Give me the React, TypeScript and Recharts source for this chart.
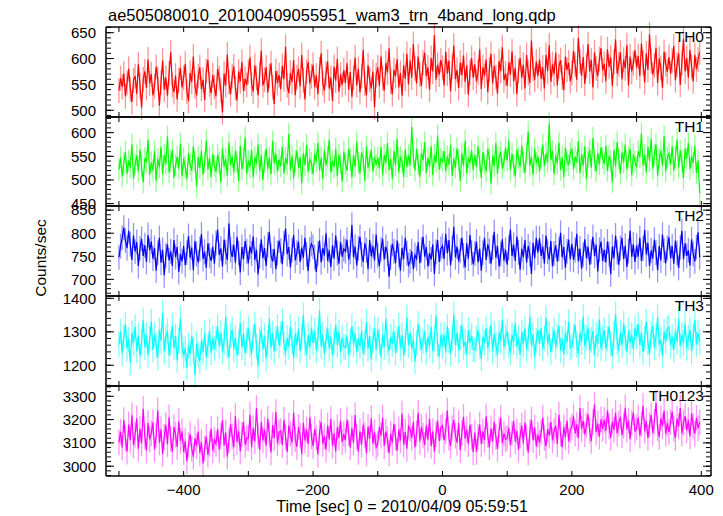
import React from 'react';
import { LineChart, Line, XAxis, YAxis, ErrorBar } from 'recharts';

const TIME = [
  -500, -497.5, -495, -492.5, -490, -487.5, -485, -482.5, -480, -477.5, -475, -472.5, -470, -467.5, -465, -462.5, -460, -457.5, -455, -452.5,
  -450, -447.5, -445, -442.5, -440, -437.5, -435, -432.5, -430, -427.5, -425, -422.5, -420, -417.5, -415, -412.5, -410, -407.5, -405, -402.5,
  -400, -397.5, -395, -392.5, -390, -387.5, -385, -382.5, -380, -377.5, -375, -372.5, -370, -367.5, -365, -362.5, -360, -357.5, -355, -352.5,
  -350, -347.5, -345, -342.5, -340, -337.5, -335, -332.5, -330, -327.5, -325, -322.5, -320, -317.5, -315, -312.5, -310, -307.5, -305, -302.5,
  -300, -297.5, -295, -292.5, -290, -287.5, -285, -282.5, -280, -277.5, -275, -272.5, -270, -267.5, -265, -262.5, -260, -257.5, -255, -252.5,
  -250, -247.5, -245, -242.5, -240, -237.5, -235, -232.5, -230, -227.5, -225, -222.5, -220, -217.5, -215, -212.5, -210, -207.5, -205, -202.5,
  -200, -197.5, -195, -192.5, -190, -187.5, -185, -182.5, -180, -177.5, -175, -172.5, -170, -167.5, -165, -162.5, -160, -157.5, -155, -152.5,
  -150, -147.5, -145, -142.5, -140, -137.5, -135, -132.5, -130, -127.5, -125, -122.5, -120, -117.5, -115, -112.5, -110, -107.5, -105, -102.5,
  -100, -97.5, -95, -92.5, -90, -87.5, -85, -82.5, -80, -77.5, -75, -72.5, -70, -67.5, -65, -62.5, -60, -57.5, -55, -52.5,
  -50, -47.5, -45, -42.5, -40, -37.5, -35, -32.5, -30, -27.5, -25, -22.5, -20, -17.5, -15, -12.5, -10, -7.5, -5, -2.5,
  0, 2.5, 5, 7.5, 10, 12.5, 15, 17.5, 20, 22.5, 25, 27.5, 30, 32.5, 35, 37.5, 40, 42.5, 45, 47.5,
  50, 52.5, 55, 57.5, 60, 62.5, 65, 67.5, 70, 72.5, 75, 77.5, 80, 82.5, 85, 87.5, 90, 92.5, 95, 97.5,
  100, 102.5, 105, 107.5, 110, 112.5, 115, 117.5, 120, 122.5, 125, 127.5, 130, 132.5, 135, 137.5, 140, 142.5, 145, 147.5,
  150, 152.5, 155, 157.5, 160, 162.5, 165, 167.5, 170, 172.5, 175, 177.5, 180, 182.5, 185, 187.5, 190, 192.5, 195, 197.5,
  200, 202.5, 205, 207.5, 210, 212.5, 215, 217.5, 220, 222.5, 225, 227.5, 230, 232.5, 235, 237.5, 240, 242.5, 245, 247.5,
  250, 252.5, 255, 257.5, 260, 262.5, 265, 267.5, 270, 272.5, 275, 277.5, 280, 282.5, 285, 287.5, 290, 292.5, 295, 297.5,
  300, 302.5, 305, 307.5, 310, 312.5, 315, 317.5, 320, 322.5, 325, 327.5, 330, 332.5, 335, 337.5, 340, 342.5, 345, 347.5,
  350, 352.5, 355, 357.5, 360, 362.5, 365, 367.5, 370, 372.5, 375, 377.5, 380, 382.5, 385, 387.5, 390, 392.5, 395, 397.5,
];

const TH0 = [
  538, 562, 545, 571, 527, 553, 580, 541, 516, 558, 566, 532, 589, 548, 505, 560, 575, 543, 598, 552,
  570, 529, 547, 584, 561, 509, 553, 596, 540, 563, 528, 571, 612, 549, 535, 567, 521, 558, 582, 544,
  563, 590, 536, 518, 572, 555, 604, 547, 529, 566, 583, 541, 559, 520, 576, 597, 550, 533, 568, 545,
  527, 580, 562, 539, 496, 571, 548, 608, 554, 531, 566, 585, 543, 519, 575, 556, 593, 537, 561, 549,
  574, 602, 551, 536, 587, 562, 529, 570, 615, 548, 559, 583, 534, 566, 591, 545, 512, 576, 553, 568,
  541, 586, 560, 623, 548, 533, 572, 555, 597, 529, 564, 580, 546, 607, 558, 521, 575, 593, 552, 566,
  588, 545, 567, 531, 579, 610, 553, 538, 571, 594, 542, 563, 518, 584, 557, 599, 536, 569, 549, 577,
  553, 591, 540, 574, 526, 563, 602, 548, 580, 535, 566, 617, 551, 529, 587, 559, 542, 575, 506, 568,
  583, 547, 604, 562, 538, 591, 573, 620, 555, 531, 578, 566, 599, 544, 572, 528, 587, 561, 609, 550,
  596, 563, 628, 581, 552, 604, 570, 547, 592, 611, 566, 583, 540, 601, 575, 645, 559, 588, 569, 597,
  582, 548, 613, 571, 596, 537, 584, 625, 560, 578, 543, 592, 568, 606, 555, 587, 530, 574, 601, 563,
  589, 556, 574, 618, 541, 583, 567, 598, 535, 579, 609, 552, 586, 564, 532, 595, 576, 622, 558, 571,
  547, 593, 569, 614, 556, 582, 531, 576, 601, 563, 588, 542, 607, 572, 553, 635, 580, 559, 594, 566,
  598, 561, 583, 542, 607, 576, 626, 555, 589, 570, 611, 548, 585, 597, 563, 539, 604, 578, 592, 556,
  572, 615, 588, 559, 640, 594, 567, 603, 551, 586, 628, 575, 597, 544, 612, 581, 566, 599, 620, 577,
  590, 556, 618, 584, 602, 547, 593, 637, 571, 589, 612, 560, 598, 581, 626, 548, 604, 575, 591, 616,
  583, 605, 566, 629, 592, 554, 610, 578, 647, 596, 569, 587, 621, 553, 600, 582, 543, 613, 589, 574,
  603, 571, 596, 624, 558, 588, 610, 549, 592, 638, 575, 601, 563, 617, 584, 556, 607, 579, 598, 612,
];

const TH1 = [
  522, 548, 507, 536, 559, 514, 541, 526, 575, 503, 533, 552, 518, 564, 529, 495, 546, 538, 585, 511,
  537, 520, 561, 498, 544, 527, 570, 512, 553, 534, 592, 516, 540, 563, 505, 531, 549, 524, 577, 508,
  545, 528, 502, 556, 533, 519, 571, 540, 486, 549, 525, 562, 511, 537, 583, 522, 547, 506, 554, 530,
  517, 553, 536, 495, 567, 528, 544, 509, 579, 532, 550, 516, 561, 539, 498, 572, 523, 545, 590, 513,
  541, 527, 563, 506, 548, 534, 575, 519, 552, 500, 538, 566, 524, 547, 512, 582, 535, 556, 518, 543,
  529, 570, 514, 546, 533, 597, 521, 551, 504, 539, 562, 526, 548, 493, 557, 531, 574, 517, 544, 536,
  512, 555, 539, 578, 520, 547, 502, 563, 531, 549, 585, 516, 541, 527, 566, 508, 553, 535, 497, 560,
  534, 519, 567, 543, 506, 552, 528, 581, 537, 514, 558, 545, 499, 571, 526, 540, 563, 518, 549, 532,
  547, 525, 569, 510, 553, 536, 578, 521, 544, 503, 561, 530, 587, 516, 549, 538, 506, 565, 527, 552,
  531, 612, 548, 520, 566, 534, 507, 557, 542, 580, 515, 546, 528, 571, 510, 553, 537, 594, 522, 545,
  539, 561, 518, 550, 532, 574, 509, 545, 526, 567, 541, 498, 556, 530, 583, 514, 548, 536, 562, 521,
  553, 527, 571, 540, 505, 559, 534, 518, 566, 545, 492, 551, 529, 578, 513, 547, 560, 524, 538, 569,
  541, 583, 520, 555, 532, 507, 564, 546, 527, 572, 538, 515, 557, 601, 530, 549, 511, 566, 535, 550,
  518, 546, 574, 529, 556, 538, 620, 543, 561, 512, 552, 535, 579, 521, 548, 506, 568, 540, 531, 557,
  566, 523, 549, 537, 582, 514, 555, 530, 571, 501, 547, 563, 526, 589, 540, 518, 557, 533, 569, 546,
  534, 572, 519, 551, 540, 496, 563, 528, 580, 545, 513, 558, 537, 575, 522, 549, 566, 510, 554, 539,
  527, 561, 548, 598, 531, 553, 516, 570, 540, 587, 524, 552, 575, 509, 545, 562, 530, 593, 518, 547,
  556, 533, 571, 520, 548, 585, 527, 562, 539, 504, 566, 545, 578, 523, 550, 536, 572, 514, 541, 472,
];

const TH2 = [
  748, 772, 790, 812, 784, 768, 805, 776, 742, 795, 760, 781, 729, 767, 788, 751, 774, 738, 796, 763,
  782, 745, 768, 719, 757, 790, 736, 764, 709, 752, 776, 741, 761, 729, 785, 748, 770, 716, 755, 739,
  772, 731, 758, 794, 747, 769, 720, 783, 755, 737, 766, 798, 744, 760, 725, 778, 752, 740, 771, 734,
  779, 808, 753, 767, 728, 786, 759, 742, 821, 764, 749, 775, 736, 792, 757, 715, 770, 744, 783, 761,
  735, 771, 756, 793, 742, 764, 711, 750, 787, 746, 768, 729, 775, 803, 751, 739, 766, 722, 757, 784,
  762, 733, 778, 810, 755, 770, 726, 763, 796, 741, 758, 782, 738, 769, 747, 790, 754, 718, 765, 777,
  770, 748, 716, 756, 784, 737, 768, 752, 800, 740, 763, 727, 774, 745, 795, 757, 734, 781, 749, 766,
  761, 786, 743, 759, 818, 748, 771, 730, 767, 792, 754, 738, 778, 763, 722, 785, 750, 772, 741, 797,
  752, 729, 765, 788, 743, 771, 756, 706, 748, 777, 761, 735, 784, 752, 719, 768, 744, 790, 757, 731,
  739, 761, 722, 753, 745, 781, 735, 764, 792, 749, 770, 728, 757, 743, 776, 712, 760, 785, 738, 766,
  773, 744, 799, 757, 785, 730, 767, 814, 748, 771, 739, 762, 790, 752, 726, 778, 745, 796, 758, 733,
  756, 782, 737, 767, 719, 758, 790, 742, 776, 761, 734, 769, 803, 747, 772, 728, 755, 787, 741, 764,
  732, 769, 808, 751, 775, 740, 793, 759, 721, 766, 748, 785, 736, 772, 755, 712, 779, 746, 790, 758,
  789, 751, 771, 734, 795, 760, 743, 783, 728, 756, 774, 739, 766, 801, 748, 770, 725, 761, 786, 744,
  777, 742, 763, 799, 739, 767, 723, 754, 787, 746, 771, 732, 760, 792, 751, 775, 717, 764, 782, 740,
  764, 737, 782, 755, 711, 771, 746, 795, 759, 732, 768, 790, 744, 773, 727, 761, 806, 749, 776, 738,
  773, 749, 790, 740, 767, 807, 754, 779, 729, 763, 745, 786, 758, 720, 772, 741, 797, 762, 735, 768,
  791, 746, 772, 734, 784, 757, 725, 769, 805, 744, 778, 751, 763, 730, 787, 755, 739, 770, 802, 748,
];

const TH3 = [
  1262, 1301, 1236, 1284, 1322, 1251, 1277, 1208, 1296, 1266, 1315, 1243, 1289, 1227, 1270, 1335, 1254, 1290, 1231, 1279,
  1331, 1246, 1292, 1260, 1223, 1306, 1273, 1356, 1241, 1284, 1302, 1229, 1268, 1318, 1252, 1287, 1214, 1275, 1340, 1258,
  1229, 1251, 1193, 1260, 1234, 1288, 1246, 1170, 1264, 1231, 1212, 1274, 1240, 1296, 1225, 1258, 1303, 1237, 1281, 1249,
  1279, 1316, 1256, 1297, 1241, 1271, 1346, 1259, 1224, 1289, 1307, 1248, 1282, 1230, 1265, 1326, 1253, 1294, 1236, 1275,
  1311, 1263, 1235, 1285, 1323, 1257, 1198, 1276, 1304, 1247, 1288, 1220, 1269, 1338, 1252, 1296, 1241, 1280, 1315, 1259,
  1293, 1331, 1264, 1237, 1282, 1255, 1316, 1271, 1221, 1295, 1260, 1308, 1243, 1285, 1350, 1266, 1232, 1290, 1254, 1312,
  1267, 1304, 1244, 1279, 1363, 1257, 1291, 1234, 1277, 1311, 1250, 1286, 1228, 1272, 1320, 1261, 1299, 1239, 1283, 1255,
  1253, 1289, 1229, 1271, 1317, 1263, 1294, 1241, 1279, 1257, 1302, 1235, 1268, 1329, 1250, 1287, 1218, 1274, 1310, 1246,
  1306, 1271, 1225, 1291, 1254, 1339, 1267, 1242, 1285, 1263, 1300, 1236, 1276, 1318, 1251, 1290, 1229, 1268, 1343, 1259,
  1297, 1249, 1276, 1211, 1266, 1324, 1281, 1246, 1271, 1301, 1238, 1285, 1258, 1314, 1243, 1279, 1348, 1262, 1226, 1290,
  1257, 1291, 1239, 1316, 1273, 1235, 1281, 1351, 1261, 1297, 1244, 1283, 1320, 1255, 1270, 1232, 1305, 1267, 1288, 1248,
  1246, 1279, 1304, 1257, 1219, 1285, 1267, 1311, 1251, 1277, 1322, 1240, 1293, 1263, 1230, 1298, 1271, 1336, 1255, 1284,
  1301, 1261, 1237, 1291, 1269, 1327, 1256, 1283, 1231, 1299, 1264, 1310, 1247, 1280, 1345, 1259, 1292, 1226, 1274, 1306,
  1264, 1311, 1249, 1281, 1341, 1265, 1293, 1239, 1276, 1304, 1255, 1286, 1318, 1244, 1279, 1232, 1297, 1268, 1330, 1252,
  1257, 1287, 1321, 1261, 1235, 1296, 1269, 1346, 1257, 1283, 1310, 1242, 1276, 1302, 1229, 1291, 1264, 1337, 1250, 1280,
  1305, 1249, 1279, 1316, 1265, 1227, 1291, 1353, 1271, 1244, 1298, 1260, 1324, 1282, 1238, 1303, 1268, 1290, 1247, 1312,
  1285, 1323, 1261, 1297, 1239, 1281, 1331, 1267, 1234, 1293, 1318, 1253, 1286, 1343, 1262, 1276, 1228, 1300, 1271, 1309,
  1314, 1259, 1285, 1247, 1303, 1271, 1339, 1259, 1291, 1267, 1324, 1251, 1282, 1306, 1242, 1288, 1335, 1263, 1297, 1270,
];

const TH0123 = [
  3102, 3148, 3081, 3198, 3121, 3062, 3179, 3112, 3218, 3091, 3136, 3205, 3075, 3160, 3098, 3246, 3128, 3067, 3185, 3115,
  3141, 3188, 3072, 3131, 3239, 3101, 3158, 3052, 3126, 3176, 3094, 3210, 3117, 3062, 3169, 3135, 3083, 3192, 3109, 3150,
  3061, 3108, 3022, 3091, 3138, 3074, 3041, 3119, 3086, 3149, 3058, 3103, 3012, 3076, 3127, 3048, 3095, 3160, 3067, 3112,
  3096, 3159, 3071, 3131, 3198, 3089, 3144, 3041, 3111, 3179, 3128, 3082, 3215, 3104, 3150, 3063, 3137, 3189, 3092, 3121,
  3119, 3221, 3081, 3164, 3106, 3249, 3131, 3071, 3189, 3111, 3157, 3088, 3203, 3135, 3059, 3176, 3120, 3232, 3098, 3145,
  3151, 3091, 3199, 3126, 3061, 3174, 3139, 3101, 3229, 3116, 3083, 3168, 3132, 3052, 3186, 3110, 3157, 3095, 3210, 3127,
  3086, 3159, 3121, 3051, 3144, 3189, 3096, 3129, 3071, 3174, 3115, 3202, 3088, 3141, 3063, 3167, 3122, 3195, 3103, 3138,
  3111, 3199, 3141, 3081, 3164, 3101, 3219, 3126, 3061, 3149, 3092, 3178, 3134, 3055, 3170, 3118, 3206, 3097, 3145, 3081,
  3096, 3169, 3131, 3209, 3086, 3149, 3116, 3056, 3139, 3101, 3182, 3124, 3065, 3158, 3110, 3226, 3092, 3147, 3075, 3171,
  3159, 3121, 3189, 3081, 3141, 3229, 3106, 3169, 3131, 3091, 3175, 3114, 3203, 3087, 3150, 3062, 3136, 3196, 3108, 3165,
  3174, 3111, 3151, 3239, 3121, 3086, 3164, 3199, 3131, 3101, 3185, 3069, 3143, 3212, 3118, 3157, 3094, 3178, 3126, 3060,
  3144, 3061, 3126, 3179, 3096, 3149, 3111, 3214, 3134, 3081, 3162, 3105, 3190, 3127, 3074, 3153, 3208, 3099, 3140, 3116,
  3121, 3164, 3091, 3141, 3194, 3106, 3151, 3071, 3131, 3174, 3098, 3187, 3123, 3058, 3146, 3199, 3112, 3166, 3085, 3135,
  3101, 3146, 3209, 3121, 3086, 3159, 3131, 3189, 3111, 3151, 3174, 3095, 3220, 3138, 3082, 3168, 3125, 3196, 3107, 3155,
  3169, 3214, 3141, 3179, 3121, 3249, 3161, 3194, 3136, 3176, 3222, 3152, 3108, 3189, 3265, 3146, 3183, 3127, 3201, 3160,
  3199, 3151, 3239, 3171, 3121, 3191, 3156, 3229, 3141, 3184, 3212, 3133, 3174, 3251, 3158, 3196, 3116, 3187, 3230, 3149,
  3166, 3209, 3131, 3181, 3259, 3151, 3194, 3121, 3176, 3219, 3143, 3190, 3272, 3162, 3125, 3205, 3171, 3238, 3139, 3184,
  3146, 3189, 3234, 3161, 3121, 3204, 3171, 3249, 3141, 3186, 3215, 3154, 3198, 3128, 3226, 3173, 3140, 3207, 3162, 3188,
];

// typical 1-sigma error per band (counts/sec)
const ERR_TH0 = 24;
const ERR_TH1 = 23;
const ERR_TH2 = 27;
const ERR_TH3 = 38;
const ERR_TH0123 = 55;

const X_TICKS = [-500, -400, -300, -200, -100, 0, 100, 200, 300, 400];
const X_LABEL_TICKS = [-400, -200, 0, 200, 400];

const MAJOR_TH0 = [500, 550, 600, 650];
const MAJOR_TH1 = [450, 500, 550, 600];
const MAJOR_TH2 = [700, 750, 800, 850];
const MAJOR_TH3 = [1200, 1300, 1400];
const MAJOR_TH0123 = [3000, 3100, 3200, 3300];

const range = (a: number, b: number, s: number) => {
  const out: number[] = [];
  for (let v = a; v <= b + 1e-9; v += s) out.push(v);
  return out;
};

const FONT = '"Liberation Sans", Arial, Helvetica, sans-serif';
const fmtMinus = (v: number) => String(v).replace('-', '\u2212');

type Panel = {
  name: string;
  values: number[];
  err: number;
  color: string;
  errColor: string;
  domain: [number, number];
  major: number[];
  minor: number[];
  top: number;
  height: number;
};

const PANELS: Panel[] = [
  { name: 'TH0', values: TH0, err: ERR_TH0, color: '#ff0000', errColor: 'rgba(255,0,0,0.42)', domain: [487, 661], major: MAJOR_TH0, minor: range(490, 660, 10), top: 27, height: 90 },
  { name: 'TH1', values: TH1, err: ERR_TH1, color: '#00ff00', errColor: 'rgba(0,255,0,0.42)', domain: [445, 633], major: MAJOR_TH1, minor: range(450, 630, 10), top: 117, height: 89 },
  { name: 'TH2', values: TH2, err: ERR_TH2, color: '#0000ff', errColor: 'rgba(0,0,255,0.42)', domain: [664, 859], major: MAJOR_TH2, minor: range(670, 850, 10), top: 206, height: 90 },
  { name: 'TH3', values: TH3, err: ERR_TH3, color: '#00ffff', errColor: 'rgba(0,255,255,0.5)', domain: [1138, 1407], major: MAJOR_TH3, minor: range(1140, 1400, 20), top: 296, height: 90 },
  { name: 'TH0123', values: TH0123, err: ERR_TH0123, color: '#ff00ff', errColor: 'rgba(255,0,255,0.42)', domain: [2958, 3344], major: MAJOR_TH0123, minor: range(2960, 3340, 20), top: 386, height: 90 },
];

const NoLabel = () => <g />;

const AXIS_LINE = { stroke: '#000', strokeWidth: 1.5 };
const TICK_LINE = { stroke: '#000', strokeWidth: 1 };

function PanelChart({ p, last }: { p: Panel; last: boolean }) {
  const rows = TIME.map((t, i) => ({ t, v: p.values[i], e: p.err }));
  const mTop = 10;
  const mBottom = last ? 0 : 10;
  const labelAxisH = last ? 30 : 0;
  const h = p.height + mTop + mBottom + labelAxisH;
  return (
    <div style={{ position: 'absolute', left: 0, top: p.top - mTop, width: 723, height: h }}>
      <LineChart width={723} height={h} data={rows} margin={{ top: mTop, right: 12, bottom: mBottom, left: 0 }}>
        <XAxis xAxisId="b" type="number" dataKey="t" domain={[-520, 415]} ticks={X_TICKS} orientation="bottom" mirror height={1}
          tickSize={5} tick={NoLabel} tickLine={TICK_LINE} axisLine={AXIS_LINE} allowDataOverflow interval={0} />
        <XAxis xAxisId="t" type="number" dataKey="t" domain={[-520, 415]} ticks={X_TICKS} orientation="top" mirror height={1}
          tickSize={5} tick={NoLabel} tickLine={TICK_LINE} axisLine={AXIS_LINE} allowDataOverflow interval={0} />
        {last && (
          <XAxis xAxisId="lab" type="number" dataKey="t" domain={[-520, 415]} ticks={X_LABEL_TICKS} orientation="bottom" height={30}
            tickSize={0} tickMargin={8} tickLine={false} axisLine={false} allowDataOverflow interval={0}
            tickFormatter={fmtMinus}
            tick={{ fontSize: 15, fill: '#000', fontFamily: FONT }} />
        )}
        <YAxis yAxisId="l" type="number" domain={p.domain} ticks={p.major} width={106} tickSize={0} tickMargin={10}
          tickLine={false} axisLine={AXIS_LINE} allowDataOverflow interval={0}
          tick={{ fontSize: 15, fill: '#000', fontFamily: FONT }} />
        <YAxis yAxisId="lM" type="number" domain={p.domain} ticks={p.major} mirror width={1} tickSize={8}
          tick={NoLabel} tickLine={TICK_LINE} axisLine={false} allowDataOverflow interval={0} />
        <YAxis yAxisId="lm" type="number" domain={p.domain} ticks={p.minor} mirror width={1} tickSize={4}
          tick={NoLabel} tickLine={TICK_LINE} axisLine={false} allowDataOverflow interval={0} />
        <YAxis yAxisId="rM" type="number" orientation="right" domain={p.domain} ticks={p.major} mirror width={1} tickSize={8}
          tick={NoLabel} tickLine={TICK_LINE} axisLine={AXIS_LINE} allowDataOverflow interval={0} />
        <YAxis yAxisId="rm" type="number" orientation="right" domain={p.domain} ticks={p.minor} mirror width={1} tickSize={4}
          tick={NoLabel} tickLine={TICK_LINE} axisLine={false} allowDataOverflow interval={0} />
        <Line xAxisId="b" yAxisId="l" type="linear" dataKey="v" stroke={p.color} strokeWidth={1.2} dot={false}
          isAnimationActive={false}>
          <ErrorBar dataKey="e" width={0} stroke={p.errColor} strokeWidth={1.3} direction="y" isAnimationActive={false} />
        </Line>
      </LineChart>
      <div style={{ position: 'absolute', right: 723 - 704, top: mTop + 1, fontFamily: FONT, fontSize: 15.5, color: '#000', lineHeight: '18px', whiteSpace: 'nowrap' }}>
        {p.name}
      </div>
    </div>
  );
}

export default function App() {
  return (
    <div style={{ position: 'absolute', left: 0, top: 0, width: 723, height: 516, background: '#fff', overflow: 'hidden' }}>
      <div style={{ position: 'absolute', left: 108, top: 5, fontFamily: FONT, fontSize: 16.5, lineHeight: '20px', color: '#000', whiteSpace: 'nowrap' }}>
        ae505080010_20100409055951_wam3_trn_4band_long.qdp
      </div>
      {PANELS.map((p, i) => (
        <PanelChart key={p.name} p={p} last={i === PANELS.length - 1} />
      ))}
      <div style={{ position: 'absolute', left: 41, top: 258, transform: 'translate(-50%, -50%) rotate(-90deg)', fontFamily: FONT, fontSize: 15.5, lineHeight: '18px', color: '#000', whiteSpace: 'nowrap' }}>
        Counts/sec
      </div>
      <div style={{ position: 'absolute', left: 402, top: 507, transform: 'translate(-50%, -50%)', fontFamily: FONT, fontSize: 16, lineHeight: '18px', color: '#000', whiteSpace: 'nowrap' }}>
        Time [sec] 0 = 2010/04/09 05:59:51
      </div>
    </div>
  );
}
